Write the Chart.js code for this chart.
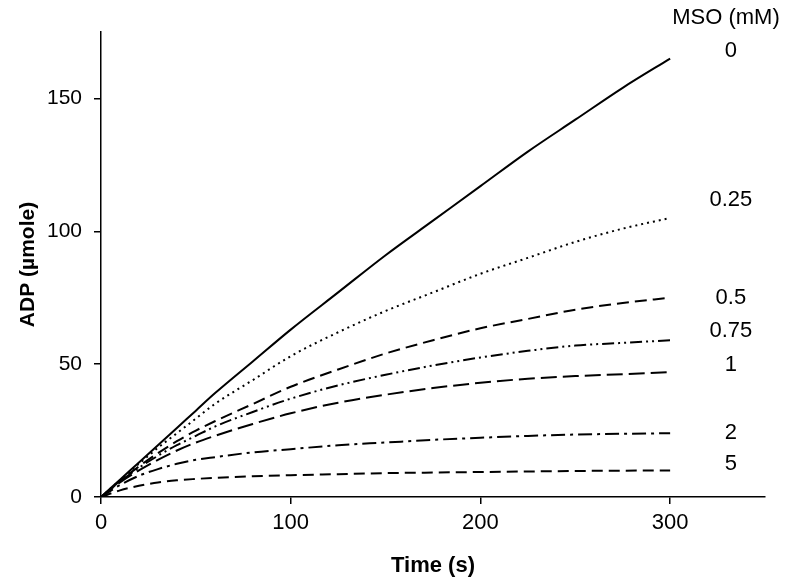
<!DOCTYPE html>
<html>
<head>
<meta charset="utf-8">
<script src="https://cdn.jsdelivr.net/npm/chart.js@4.4.1/dist/chart.umd.min.js"></script>
<style>
  body { margin: 0; background: #fff; }
  #wrap { width: 800px; height: 584px; }
</style>
</head>
<body>
<div id="wrap"><canvas id="adpChart" width="800" height="584"></canvas></div>
<script>
// time points (s)
const timeS = [0, 10, 20, 30, 40, 50, 60, 80, 100, 125, 150, 175, 200, 225, 250, 275, 300];

// ADP (umole) for each MSO concentration
const mso0    = [0, 6.5, 13, 19.5, 26, 32.5, 39, 51, 63, 77, 91, 104, 117, 130, 142, 154, 165];
const mso025  = [0, 6.3, 12.5, 18.5, 24, 29.5, 35, 44, 53, 62, 70, 77, 84, 90, 96, 101, 105];
const mso05   = [0, 6, 11.5, 16.5, 21, 25, 28.5, 35, 41.5, 48, 54, 59, 63.5, 67, 70.5, 73, 75];
const mso075  = [0, 5.8, 11, 15.5, 19.5, 23, 26.5, 32, 37, 42, 46, 49.5, 52.5, 55, 57, 58, 59];
const mso1    = [0, 5.5, 10, 14, 17.5, 20.5, 23, 27.5, 31.5, 35.5, 38.5, 41, 43, 44.5, 45.5, 46.2, 47];
const mso2    = [0, 4.5, 8, 10.5, 12.5, 14, 15, 16.8, 18, 19.5, 20.5, 21.5, 22.3, 23, 23.5, 23.8, 24];
const mso5    = [0, 2.5, 4.2, 5.5, 6.3, 6.8, 7.2, 7.8, 8.2, 8.6, 9, 9.2, 9.4, 9.6, 9.8, 9.9, 10];

const msoLabels = ['0', '0.25', '0.5', '0.75', '1', '2', '5'];
const xTicks = [0, 100, 200, 300];
const yTicks = [0, 50, 100, 150];

const seriesList = [mso0, mso025, mso05, mso075, mso1, mso2, mso5];
const dashes = [
    [],
    [2, 4],
    [12, 6],
    [12, 4, 2, 4, 2, 4],
    [16, 6],
    [14, 5, 3, 5],
    [11, 6]
];
// label vertical nudges (px) relative to curve end
const labelNudge = [-8, -18, 0, -9, -7, 0, -6];

function toPoints(arr) {
    return arr.map((v, i) => ({ x: timeS[i], y: v }));
}

const datasets = seriesList.map((s, i) => ({
    label: msoLabels[i],
    data: toPoints(s),
    borderColor: '#000',
    borderWidth: 2,
    borderDash: dashes[i],
    pointRadius: 0,
    fill: false,
    cubicInterpolationMode: 'monotone'
}));

// right-hand labels
const curveLabels = {
    id: 'curveLabels',
    afterDatasetsDraw(chart) {
        const ctx = chart.ctx;
        const xs = chart.scales.x, ys = chart.scales.y;
        ctx.save();
        ctx.fillStyle = '#000';
        ctx.font = '22px "Liberation Sans", Arial, sans-serif';
        ctx.textAlign = 'center';
        ctx.textBaseline = 'middle';
        ctx.fillText('MSO (mM)', chart.chartArea.right - 39, chart.chartArea.top - 14);
        seriesList.forEach((s, i) => {
            const px = xs.getPixelForValue(332);
            const py = ys.getPixelForValue(s[s.length - 1]) + labelNudge[i];
            ctx.fillText(msoLabels[i], px, py);
        });
        ctx.restore();
    }
};

const ctx = document.getElementById('adpChart').getContext('2d');
new Chart(ctx, {
    type: 'line',
    data: { datasets: datasets },
    plugins: [curveLabels],
    options: {
        responsive: false,
        animation: false,
        layout: { padding: { top: 32, right: 35, left: 0, bottom: 0 } },
        plugins: {
            legend: { display: false },
            tooltip: { enabled: false }
        },
        scales: {
            x: {
                type: 'linear',
                min: 0,
                max: 350,
                afterBuildTicks: s => { s.ticks = xTicks.map(v => ({ value: v })); },
                afterFit: s => { s.height = 87; },
                grid: { drawOnChartArea: false, drawTicks: true, tickLength: 7, color: '#000', lineWidth: 1.5 },
                border: { color: '#000', width: 1.5 },
                ticks: {
                    color: '#000',
                    padding: 6,
                    font: { family: '"Liberation Sans Narrow", "Liberation Sans", Arial', size: 22 }
                },
                title: {
                    display: true,
                    text: 'Time (s)',
                    color: '#000',
                    padding: { top: 0, bottom: 5 },
                    font: { family: '"Liberation Sans Narrow", "Liberation Sans", Arial', size: 22, weight: 'bold' }
                }
            },
            y: {
                min: 0,
                max: 175,
                afterBuildTicks: s => { s.ticks = yTicks.map(v => ({ value: v })); },
                afterFit: s => { s.width = 101; },
                grid: { drawOnChartArea: false, drawTicks: true, tickLength: 7, color: '#000', lineWidth: 1.5 },
                border: { color: '#000', width: 1.5 },
                ticks: {
                    color: '#000',
                    padding: 12,
                    font: { family: '"Liberation Sans", Arial', size: 21 }
                },
                title: {
                    display: true,
                    text: 'ADP (µmole)',
                    color: '#000',
                    padding: { top: 16, bottom: 0 },
                    font: { family: '"Liberation Sans", Arial', size: 21, weight: 'bold' }
                }
            }
        }
    }
});
</script>
</body>
</html>
